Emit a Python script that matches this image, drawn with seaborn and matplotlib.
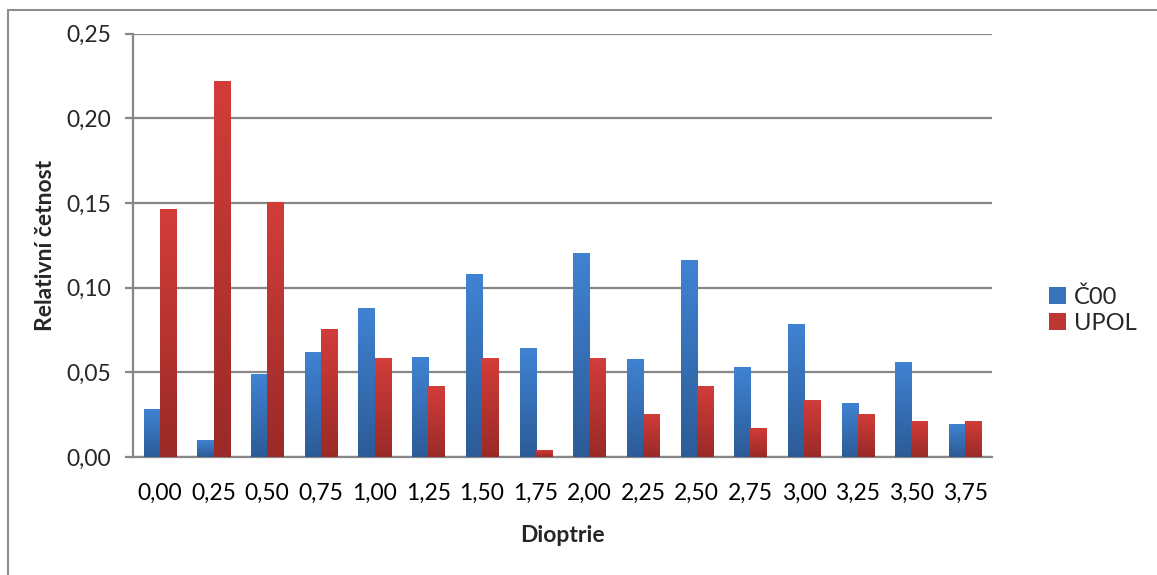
import numpy as np
import pandas as pd
import matplotlib
matplotlib.use("Agg")
import matplotlib.pyplot as plt
import seaborn as sns
from matplotlib.colors import LinearSegmentedColormap
from matplotlib.patches import Rectangle

# Relative frequencies of dioptre values for the two groups
dioptrie = ["0,00", "0,25", "0,50", "0,75", "1,00", "1,25", "1,50", "1,75",
            "2,00", "2,25", "2,50", "2,75", "3,00", "3,25", "3,50", "3,75"]
c00 = [0.0281, 0.0098, 0.0488, 0.0618, 0.0878, 0.0589, 0.1079, 0.0642,
       0.1204, 0.0581, 0.1162, 0.0534, 0.0783, 0.0320, 0.0563, 0.0196]
upol = [0.1463, 0.2219, 0.1504, 0.0754, 0.0583, 0.0417, 0.0583, 0.0039,
        0.0587, 0.0255, 0.0421, 0.0172, 0.0338, 0.0255, 0.0213, 0.0213]
series = ["Č00", "UPOL"]

df = pd.DataFrame({
    "Dioptrie": dioptrie * 2,
    "value": c00 + upol,
    "skupina": [series[0]] * len(dioptrie) + [series[1]] * len(dioptrie),
})

sns.set_theme(style="white")
plt.rcParams["font.family"] = ["Lato", "DejaVu Sans"]

top_cols = {"Č00": "#4083d3", "UPOL": "#d23d3a"}
bot_cols = {"Č00": "#2c5b97", "UPOL": "#9a2a27"}
mid_cols = {"Č00": "#3872bb", "UPOL": "#be3633"}

fig = plt.figure(figsize=(11.57, 5.75), dpi=100)
ax = fig.add_axes([133 / 1157, 1 - 457 / 575, (992 - 133) / 1157, (457 - 33.5) / 575])

sns.barplot(data=df, x="Dioptrie", y="value", hue="skupina", order=dioptrie,
            hue_order=series, palette=mid_cols, width=0.6, gap=0,
            saturation=1, ax=ax, linewidth=0, legend=True)

# vertical gradient fill for each bar
for cont, name in zip(ax.containers, series):
    cmap = LinearSegmentedColormap.from_list(name, [bot_cols[name], top_cols[name]])
    grad = np.linspace(0, 1, 256).reshape(-1, 1)
    for bar in cont:
        x0, y0 = bar.get_x(), bar.get_y()
        w, h = bar.get_width(), bar.get_height()
        im = ax.imshow(grad, cmap=cmap, origin="lower", aspect="auto",
                       extent=[x0, x0 + w, y0, y0 + h], zorder=3)
        im.set_clip_path(bar)
        bar.set_zorder(2)

ax.set_xlim(-0.5, len(dioptrie) - 0.5)
ax.set_ylim(0, 0.25)
ax.set_yticks(np.arange(0, 0.26, 0.05))
ax.set_yticklabels([f"{v:.2f}".replace(".", ",") for v in np.arange(0, 0.26, 0.05)])

grid_c = "#878787"
ax.yaxis.grid(True, color=grid_c, linewidth=1.6, zorder=0)
ax.set_axisbelow(True)
for s in ["top", "right"]:
    ax.spines[s].set_visible(False)
for s in ["left", "bottom"]:
    ax.spines[s].set_color(grid_c)
    ax.spines[s].set_linewidth(1.6)

ax.set_xticks(np.arange(-0.5, len(dioptrie), 1), minor=True)
ax.tick_params(axis="x", which="major", length=0, pad=18.6, labelsize=16.5, colors="black")
ax.tick_params(axis="x", which="minor", length=6, width=1.6, color=grid_c, direction="out")
ax.tick_params(axis="y", length=6, width=1.6, color=grid_c, direction="out",
               pad=10, labelsize=16.5, left=True)

ax.set_xlabel("Dioptrie", fontsize=16.5, fontweight="bold", labelpad=15.5)
ax.set_ylabel("Relativní četnost", fontsize=16.5, fontweight="bold", labelpad=7)

handles, labels = ax.get_legend_handles_labels()
for hd, nm in zip(handles, labels):
    hd.set_facecolor(mid_cols[nm])
leg = ax.legend(handles, labels, loc="center left", bbox_to_anchor=(1.042, 0.347),
                frameon=False, fontsize=17, handlelength=0.7, handleheight=0.7,
                handletextpad=0.35, labelspacing=0.2)

# outer chart frame
fig.patches.append(Rectangle((8 / 1157, -0.1), 1.2, 1 - 10 / 575 + 0.1,
                             transform=fig.transFigure, fill=False,
                             edgecolor="#8c8c8c", linewidth=1.5))

fig.savefig("out.png", dpi=100, facecolor="white")
